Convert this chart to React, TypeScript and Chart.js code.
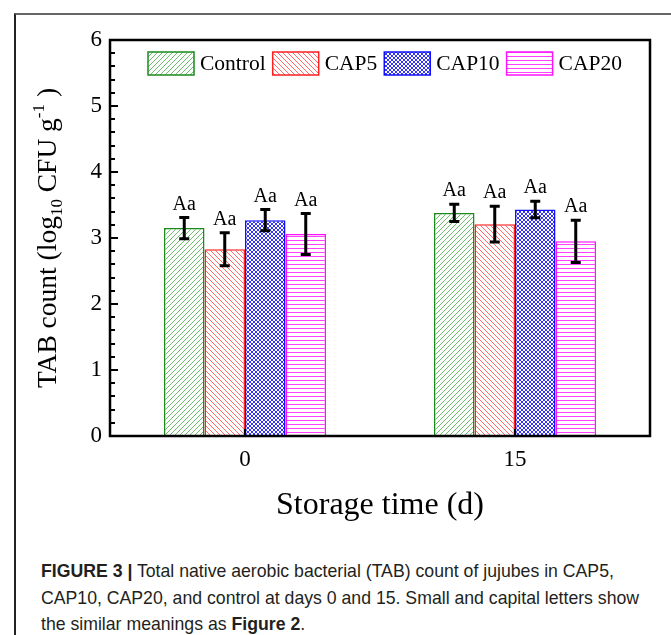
import React, { useEffect, useRef } from "react";
import { Chart, registerables } from "chart.js";
Chart.register(...registerables);

const categories = ["0", "15"];
const seriesNames = ["Control", "CAP5", "CAP10", "CAP20"];
const controlMeans = [3.15, 3.38];
const controlErr = [0.16, 0.13];
const cap5Means = [2.83, 3.21];
const cap5Err = [0.25, 0.27];
const cap10Means = [3.27, 3.43];
const cap10Err = [0.16, 0.125];
const cap20Means = [3.06, 2.95];
const cap20Err = [0.31, 0.32];
const controlLetters = ["Aa", "Aa"];
const cap5Letters = ["Aa", "Aa"];
const cap10Letters = ["Aa", "Aa"];
const cap20Letters = ["Aa", "Aa"];
const yTicks = [0, 1, 2, 3, 4, 5, 6];

const SERIF = '"Liberation Serif", "Times New Roman", serif';

function makePattern(kind: string, color: string, bg = "#ffffff") {
  const s = kind === "cross" ? 4 : kind === "h" ? 4 : 5;
  const c = document.createElement("canvas");
  c.width = s;
  c.height = s;
  const g = c.getContext("2d")!;
  g.fillStyle = bg;
  g.fillRect(0, 0, s, s);
  g.strokeStyle = color;
  g.lineWidth = 1;
  g.beginPath();
  if (kind === "fwd" || kind === "cross") {
    for (let k = -1; k <= 1; k++) {
      g.moveTo(k * s, s);
      g.lineTo(k * s + s, 0);
    }
  }
  if (kind === "back" || kind === "cross") {
    for (let k = -1; k <= 1; k++) {
      g.moveTo(k * s, 0);
      g.lineTo(k * s + s, s);
    }
  }
  if (kind === "h") {
    g.moveTo(0, 0.5);
    g.lineTo(s, 0.5);
  }
  g.stroke();
  return g.createPattern(c, "repeat")!;
}

export default function App() {
  const ref = useRef<HTMLCanvasElement>(null);
  useEffect(() => {
    const canvas = ref.current!;
    const means = [controlMeans, cap5Means, cap10Means, cap20Means];
    const errs = [controlErr, cap5Err, cap10Err, cap20Err];
    const letters = [controlLetters, cap5Letters, cap10Letters, cap20Letters];
    const borders = ["#1a8a1a", "#ff2020", "#1010ff", "#ff10ff"];
    const patterns = [
      makePattern("fwd", "#6fbf6f"),
      makePattern("back", "#ff6a6a"),
      makePattern("cross", "#3535ff"),
      makePattern("h", "#ff40ff"),
    ];

    const plugin = {
      id: "custom",
      afterDatasetsDraw(chart: any) {
        const ctx = chart.ctx;
        const y = chart.scales.y;
        ctx.save();
        means.forEach((m, di) => {
          const meta = chart.getDatasetMeta(di);
          meta.data.forEach((bar: any, i: number) => {
            const v = m[i];
            const e = errs[di][i];
            const yt = y.getPixelForValue(v + e);
            const yb = y.getPixelForValue(v - e);
            ctx.strokeStyle = "#000";
            ctx.lineWidth = 3;
            ctx.beginPath();
            ctx.moveTo(bar.x, yt);
            ctx.lineTo(bar.x, yb);
            ctx.moveTo(bar.x - 5, yt);
            ctx.lineTo(bar.x + 5, yt);
            ctx.moveTo(bar.x - 5, yb);
            ctx.lineTo(bar.x + 5, yb);
            ctx.stroke();
            ctx.fillStyle = "#000";
            ctx.font = `20px ${SERIF}`;
            ctx.textAlign = "center";
            ctx.textBaseline = "alphabetic";
            ctx.fillText(letters[di][i], bar.x, yt - 8);
          });
        });
        ctx.restore();
      },
      afterDraw(chart: any) {
        const ctx = chart.ctx;
        const a = chart.chartArea;
        const y = chart.scales.y;
        const x = chart.scales.x;
        ctx.save();
        // box
        ctx.strokeStyle = "#000";
        ctx.lineWidth = 2.5;
        ctx.strokeRect(a.left, a.top, a.right - a.left, a.bottom - a.top);
        // y ticks (major + minor)
        ctx.lineWidth = 2;
        ctx.beginPath();
        for (let k = 0; k <= 30; k++) {
          const v = k * 0.2;
          const py = Math.round(y.getPixelForValue(v));
          const len = k % 5 === 0 ? 8 : 5;
          ctx.moveTo(a.left, py);
          ctx.lineTo(a.left + len, py);
        }
        // x ticks
        categories.forEach((_, i) => {
          const px = x.getPixelForValue(i);
          ctx.moveTo(px, a.bottom);
          ctx.lineTo(px, a.bottom - 7);
        });
        ctx.stroke();

        // legend
        ctx.font = `21.5px ${SERIF}`;
        ctx.textBaseline = "middle";
        ctx.textAlign = "left";
        let lx = a.left + 38;
        const ly = a.top + 12;
        const bw = 46;
        const bh = 23;
        seriesNames.forEach((n, i) => {
          ctx.fillStyle = patterns[i];
          ctx.fillRect(lx, ly, bw, bh);
          ctx.strokeStyle = borders[i];
          ctx.lineWidth = 1.5;
          ctx.strokeRect(lx, ly, bw, bh);
          ctx.fillStyle = "#000";
          ctx.fillText(n, lx + bw + 6, ly + bh / 2 + 1);
          lx += bw + 6 + ctx.measureText(n).width + 7;
        });

        // x title
        ctx.font = `32px ${SERIF}`;
        ctx.textAlign = "center";
        ctx.textBaseline = "alphabetic";
        ctx.fillStyle = "#000";
        ctx.fillText("Storage time (d)", (a.left + a.right) / 2, a.bottom + 78);

        // y title with sub/superscripts
        const parts: [string, number, number][] = [
          ["TAB count (log", 27.5, 0],
          ["10", 17, 6],
          [" CFU g", 27.5, 0],
          ["-1", 17, -12],
          [" )", 27.5, 0],
        ];
        let total = 0;
        parts.forEach(([t, fs]) => {
          ctx.font = `${fs}px ${SERIF}`;
          total += ctx.measureText(t).width;
        });
        ctx.translate(56, (a.top + a.bottom) / 2);
        ctx.rotate(-Math.PI / 2);
        ctx.textAlign = "left";
        let tx = -total / 2;
        parts.forEach(([t, fs, off]) => {
          ctx.font = `${fs}px ${SERIF}`;
          ctx.fillText(t, tx, off);
          tx += ctx.measureText(t).width;
        });
        ctx.restore();
      },
    };

    const chart = new Chart(canvas, {
      type: "bar",
      data: {
        labels: categories,
        datasets: seriesNames.map((n, i) => ({
          label: n,
          data: means[i],
          backgroundColor: patterns[i],
          borderColor: borders[i],
          borderWidth: 1.5,
          categoryPercentage: 0.6,
          barPercentage: 1.0,
        })),
      },
      options: {
        responsive: false,
        animation: false,
        events: [],
        layout: { padding: { left: 0, right: 21, top: 40, bottom: 0 } },
        plugins: { legend: { display: false }, tooltip: { enabled: false }, title: { display: false } },
        scales: {
          x: {
            grid: { display: false, drawTicks: false },
            border: { display: false },
            ticks: { color: "#000", font: { family: SERIF, size: 23 }, padding: 10 },
            afterFit: (s: any) => {
              s.height = 104;
            },
          },
          y: {
            min: 0,
            max: 6,
            grid: { display: false, drawTicks: false },
            border: { display: false },
            ticks: {
              stepSize: 1,
              color: "#000",
              font: { family: SERIF, size: 23 },
              padding: 8,
              callback: (v: any) => String(yTicks.includes(Number(v)) ? v : ""),
            },
            afterFit: (s: any) => {
              s.width = 110;
            },
          },
        },
      },
      plugins: [plugin],
    } as any);
    return () => chart.destroy();
  }, []);

  return (
    <div style={{ position: "fixed", left: 0, top: 0, width: 671, height: 635, background: "#fff", overflow: "hidden" }}>
      <div style={{ position: "absolute", left: 14, top: 13, width: 700, height: 700, borderLeft: "2px solid #222", borderTop: "2px solid #666" }} />
      <canvas ref={ref} width={671} height={540} style={{ position: "absolute", left: 0, top: 0, width: 671, height: 540 }} />
      <div
        style={{
          position: "absolute",
          left: 41,
          top: 558,
          width: 700,
          fontFamily: '"Liberation Sans Narrow", "Liberation Sans", Arial, sans-serif',
          fontSize: 18.5,
          lineHeight: "26.5px",
          color: "#231f20",
          transform: "scaleX(0.955)",
          transformOrigin: "0 0",
          whiteSpace: "nowrap",
        }}
      >
        <b>FIGURE 3 |</b> Total native aerobic bacterial (TAB) count of jujubes in CAP5,
        <br />
        CAP10, CAP20, and control at days 0 and 15. Small and capital letters show
        <br />
        the similar meanings as <b>Figure 2</b>.
      </div>
    </div>
  );
}
